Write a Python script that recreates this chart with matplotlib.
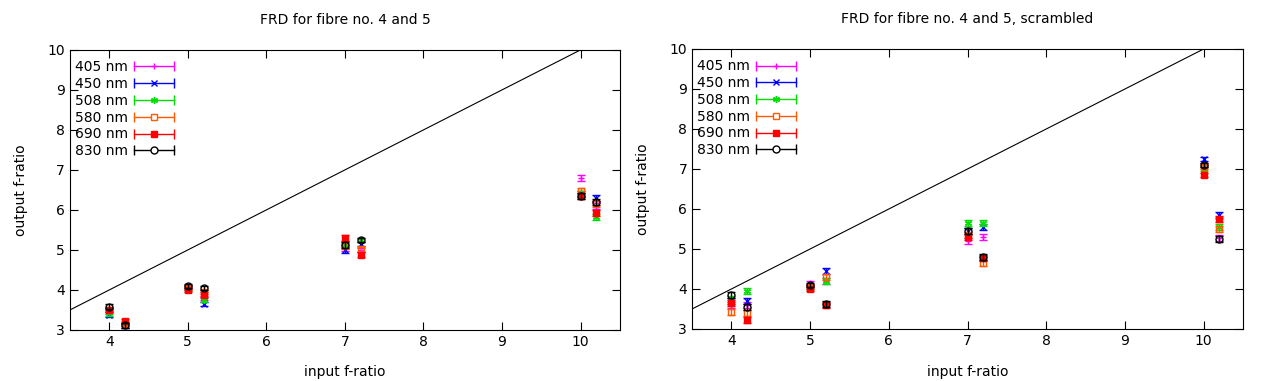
import numpy as np
import matplotlib
matplotlib.use("Agg")
import matplotlib.pyplot as plt
from matplotlib.legend_handler import HandlerBase
from matplotlib.lines import Line2D

# data
x_in = [4.0, 4.2, 5.0, 5.2, 7.0, 7.2, 10.0, 10.2]
labels = ["405 nm", "450 nm", "508 nm", "580 nm", "690 nm", "830 nm"]
colors = ["#ff00ff", "#0000ff", "#00e000", "#ff5a00", "#ff0000", "#000000"]
markers = ["+", "x", (6, 2, 0), "s", "s", "o"]
filled = [True, True, True, False, True, False]

# fibre 4 and 5 (not scrambled)
plain = {
    "405 nm": [3.45, 3.12, 4.08, 3.80, 5.05, 5.00, 6.80, 6.10],
    "450 nm": [3.38, 3.12, 4.05, 3.65, 5.00, 5.15, 6.40, 6.30],
    "508 nm": [3.42, 3.15, 4.05, 3.75, 5.15, 5.25, 6.40, 5.82],
    "580 nm": [3.50, 3.15, 4.05, 3.95, 5.10, 5.02, 6.48, 6.15],
    "690 nm": [3.50, 3.22, 4.00, 3.88, 5.30, 4.88, 6.35, 5.92],
    "830 nm": [3.58, 3.12, 4.10, 4.05, 5.12, 5.25, 6.35, 6.20],
}
plain_err = [0.06, 0.06, 0.05, 0.06, 0.07, 0.06, 0.08, 0.07]

# fibre 4 and 5, scrambled
scram = {
    "405 nm": [3.60, 3.60, 4.15, 4.20, 5.20, 5.30, 7.10, 5.28],
    "450 nm": [3.70, 3.70, 4.05, 4.45, 5.45, 5.55, 7.25, 5.85],
    "508 nm": [3.75, 3.95, 4.05, 4.20, 5.65, 5.65, 7.00, 5.55],
    "580 nm": [3.43, 3.40, 4.05, 4.30, 5.35, 4.65, 7.05, 5.50],
    "690 nm": [3.65, 3.22, 4.00, 3.60, 5.30, 4.78, 6.85, 5.75],
    "830 nm": [3.85, 3.55, 4.10, 3.62, 5.45, 4.80, 7.10, 5.25],
}
scram_err = [0.07, 0.07, 0.06, 0.07, 0.08, 0.07, 0.06, 0.07]


class HErrHandler(HandlerBase):
    # gnuplot-like key sample: horizontal bar with end caps and the point in the middle
    def __init__(self, color, marker, fill):
        super().__init__()
        self.c, self.m, self.f = color, marker, fill

    def create_artists(self, legend, orig, xd, yd, w, h, fs, trans):
        y = yd + h / 2
        line = Line2D([xd, xd + w], [y, y], color=self.c, lw=1.0,
                      marker="|", markevery=[0, 1], markersize=7, transform=trans)
        pt = Line2D([xd + w / 2], [y], color=self.c, marker=self.m, markersize=5,
                    markerfacecolor=self.c if self.f else "white",
                    markeredgewidth=1.0, linestyle="none", transform=trans)
        return [line, pt]


def draw(ax, data, err, title):
    ax.plot([3.5, 10.0], [3.5, 10.0], color="black", lw=0.8)
    handles, hmap = [], {}
    for lab, c, m, f in zip(labels, colors, markers, filled):
        ax.errorbar(x_in, data[lab], yerr=err, fmt="none", ecolor=c,
                    elinewidth=1.0, capsize=3, capthick=1.0)
        ax.plot(x_in, data[lab], linestyle="none", marker=m, color=c,
                markersize=5, markerfacecolor=c if f else "none",
                markeredgewidth=1.0)
        h = Line2D([], [], color=c)
        handles.append(h)
        hmap[h] = HErrHandler(c, m, f)
    ax.set_xlim(3.5, 10.5)
    ax.set_ylim(3, 10)
    ax.set_xticks(range(4, 11))
    ax.set_yticks(range(3, 11))
    ax.tick_params(direction="in", top=True, right=True, length=6, labelsize=10)
    ax.set_title(title, fontsize=10, pad=19)
    ax.set_xlabel("input f-ratio", fontsize=10, labelpad=12)
    ax.set_ylabel("output f-ratio", fontsize=10, labelpad=14)
    leg = ax.legend(handles, labels, handler_map=hmap, loc="upper left",
                    bbox_to_anchor=(-0.008, 0.995),
                    frameon=False, markerfirst=False, fontsize=10,
                    handlelength=2.9, handletextpad=0.45, labelspacing=0.2,
                    borderaxespad=0.2, borderpad=0.45)
    for t in leg.get_texts():
        t.set_ha("right")


fig = plt.figure(figsize=(12.61, 3.81), dpi=100)
ax1 = fig.add_axes([0.0555, 0.134, 0.436, 0.735])
ax2 = fig.add_axes([0.5488, 0.1365, 0.437, 0.735])
draw(ax1, plain, plain_err, "FRD for fibre no. 4 and 5")
draw(ax2, scram, scram_err, "FRD for fibre no. 4 and 5, scrambled")
fig.savefig("out.png", dpi=100)
